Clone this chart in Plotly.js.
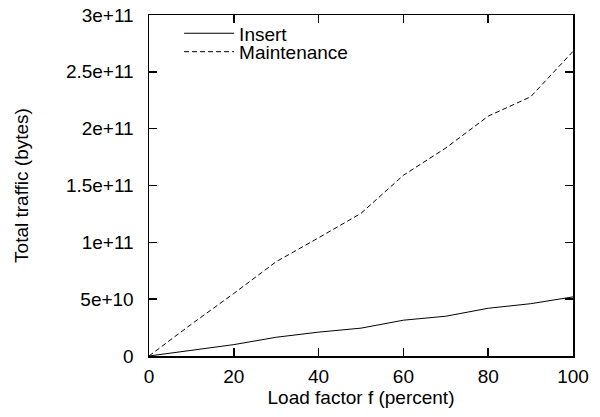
<!DOCTYPE html>
<html>
<head>
<meta charset="utf-8">
<script src="https://cdn.plot.ly/plotly-3.0.1.min.js"></script>
<style>html,body{margin:0;padding:0;background:#fff;}#chart{width:600px;height:417px;}</style>
</head>
<body>
<div id="chart"></div>
<script>
const loadFactor = [0, 10, 20, 30, 40, 50, 60, 70, 80, 90, 100];
const insertTraffic = [0, 0.5e10, 1.0e10, 1.65e10, 2.1e10, 2.45e10, 3.15e10, 3.5e10, 4.2e10, 4.6e10, 5.2e10];
const maintenanceTraffic = [0, 0.28e11, 0.55e11, 0.83e11, 1.04e11, 1.255e11, 1.59e11, 1.83e11, 2.11e11, 2.28e11, 2.68e11];
const xTickVals = [0, 20, 40, 60, 80, 100];
const yTickVals = [0, 5e10, 1e11, 1.5e11, 2e11, 2.5e11, 3e11];
const yTickText = ['0', '5e+10', '1e+11', '1.5e+11', '2e+11', '2.5e+11', '3e+11'];

const FONT = '"Liberation Sans", Arial, Helvetica, sans-serif';

const traces = [
  {x: loadFactor, y: insertTraffic, name: 'Insert', mode: 'lines', type: 'scatter',
   line: {color: '#000', width: 1}, legend: 'legend'},
  {x: loadFactor, y: maintenanceTraffic, name: 'Maintenance', mode: 'lines', type: 'scatter',
   line: {color: '#000', width: 1, dash: '5px,3px'}, legend: 'legend2'}
];

const axisCommon = {
  showline: true, linewidth: 1.5, linecolor: '#000', mirror: 'ticks',
  ticks: 'inside', ticklen: 8, tickwidth: 1.5, tickcolor: '#000',
  showgrid: false, zeroline: false, fixedrange: true,
  tickfont: {family: FONT, size: 19, color: '#000'}
};

const legendCommon = {
  xanchor: 'left', yanchor: 'middle', bgcolor: 'rgba(0,0,0,0)', borderwidth: 0,
  font: {family: FONT, size: 19, color: '#000'}, itemwidth: 50
};

const layout = {
  width: 600, height: 417,
  margin: {l: 149, r: 27, t: 15, b: 61, pad: 0},
  paper_bgcolor: '#fff', plot_bgcolor: '#fff',
  font: {family: FONT, size: 19, color: '#000'},
  showlegend: true,
  xaxis: Object.assign({}, axisCommon, {
    range: [0, 100], tickvals: xTickVals, ticklabelstandoff: 3,
    title: {text: 'Load factor f (percent)', font: {family: FONT, size: 19, color: '#000'}, standoff: 3}
  }),
  yaxis: Object.assign({}, axisCommon, {
    range: [0, 3e11], tickvals: yTickVals, ticktext: yTickText, ticklabelstandoff: 10,
    title: {text: 'Total traffic (bytes)', font: {family: FONT, size: 19, color: '#000'}, standoff: 32}
  }),
  legend: Object.assign({}, legendCommon, {x: 0.071, y: 0.946}),
  legend2: Object.assign({}, legendCommon, {x: 0.071, y: 0.892})
};

Plotly.newPlot('chart', traces, layout, {displayModeBar: false, staticPlot: true});
</script>
</body>
</html>
